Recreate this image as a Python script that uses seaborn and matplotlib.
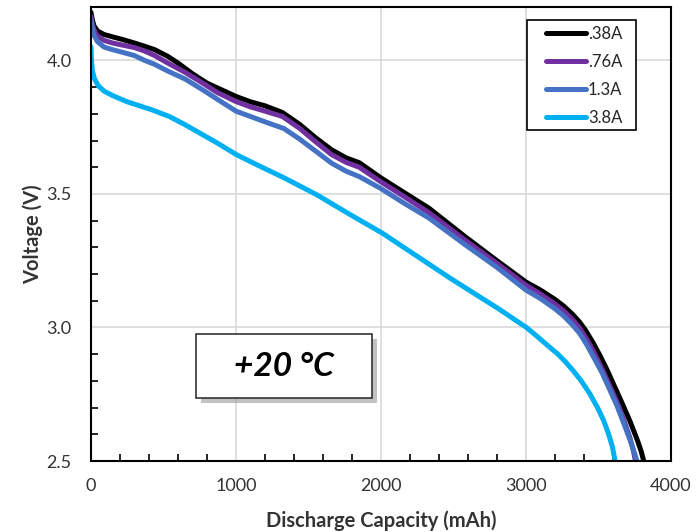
import matplotlib
matplotlib.use("Agg")
import matplotlib.pyplot as plt
import seaborn as sns
import pandas as pd
from matplotlib.patches import Rectangle
from matplotlib.ticker import MultipleLocator, FormatStrFormatter

sns.set_theme(style="white")
plt.rcParams['font.family'] = ['Lato', 'DejaVu Sans']

series_names = [".38A", ".76A", "1.3A", "3.8A"]
colors = ["#000000", "#7030A0", "#4472C4", "#00B0F0"]

cap_038 = [0, 8, 20, 45, 90, 150, 220, 300, 370, 440, 530, 600, 700, 800, 900, 1000, 1100,
           1200, 1320, 1440, 1550, 1660, 1760, 1850, 2000, 2160, 2330, 2580, 2800, 3000, 3100,
           3200, 3260, 3320, 3370, 3410, 3460, 3510, 3560, 3610, 3660, 3720, 3770, 3795, 3812]
volt_038 = [4.18, 4.155, 4.13, 4.11, 4.097, 4.088, 4.078, 4.065, 4.053, 4.04, 4.015, 3.99, 3.95,
            3.915, 3.89, 3.865, 3.845, 3.83, 3.805, 3.76, 3.71, 3.665, 3.635, 3.617, 3.56,
            3.505, 3.447, 3.34, 3.25, 3.17, 3.14, 3.105, 3.08, 3.05, 3.02, 2.99, 2.945, 2.895,
            2.84, 2.78, 2.72, 2.645, 2.575, 2.535, 2.5]

cap_076 = [0, 8, 20, 45, 90, 150, 220, 300, 370, 440, 530, 650, 770, 870, 1000, 1100, 1200,
           1320, 1440, 1550, 1660, 1760, 1850, 2000, 2160, 2330, 2580, 2800, 3000, 3100, 3200,
           3260, 3320, 3370, 3420, 3470, 3520, 3570, 3620, 3670, 3715, 3740, 3755]
volt_076 = [4.165, 4.14, 4.115, 4.09, 4.075, 4.065, 4.057, 4.048, 4.035, 4.018, 3.99, 3.955,
            3.915, 3.88, 3.846, 3.826, 3.81, 3.79, 3.745, 3.695, 3.647, 3.618, 3.60, 3.545,
            3.49, 3.43, 3.327, 3.24, 3.158, 3.125, 3.088, 3.062, 3.03, 2.998, 2.955, 2.905,
            2.85, 2.79, 2.73, 2.66, 2.59, 2.54, 2.5]

cap_13 = [0, 8, 20, 45, 90, 150, 220, 300, 370, 440, 530, 650, 770, 870, 1000, 1100, 1200,
          1330, 1440, 1550, 1660, 1760, 1850, 2000, 2160, 2330, 2580, 2800, 3000, 3100, 3200,
          3260, 3320, 3370, 3420, 3470, 3525, 3575, 3625, 3675, 3720, 3748, 3765]
volt_13 = [4.15, 4.125, 4.095, 4.07, 4.05, 4.04, 4.03, 4.018, 4.0, 3.985, 3.96, 3.93, 3.89,
           3.855, 3.81, 3.79, 3.77, 3.745, 3.705, 3.66, 3.615, 3.585, 3.565, 3.52, 3.465,
           3.41, 3.31, 3.225, 3.14, 3.108, 3.07, 3.043, 3.01, 2.978, 2.935, 2.885, 2.83,
           2.77, 2.71, 2.64, 2.575, 2.53, 2.5]

cap_38 = [0, 3, 10, 25, 50, 90, 150, 250, 420, 540, 646, 760, 873, 1003, 1160, 1333, 1560,
          1780, 2010, 2240, 2467, 2650, 2811, 2920, 3003, 3080, 3155, 3220, 3271, 3330, 3381,
          3440, 3498, 3535, 3567, 3595, 3615]
volt_38 = [4.05, 4.0, 3.96, 3.93, 3.905, 3.885, 3.868, 3.845, 3.815, 3.79, 3.76, 3.725, 3.69,
           3.647, 3.605, 3.56, 3.496, 3.425, 3.353, 3.27, 3.188, 3.125, 3.07, 3.03, 3.0, 2.965,
           2.93, 2.90, 2.872, 2.835, 2.80, 2.752, 2.695, 2.652, 2.605, 2.555, 2.5]

caps = [cap_038, cap_076, cap_13, cap_38]
volts = [volt_038, volt_076, volt_13, volt_38]

frames = []
for name, c, v in zip(series_names, caps, volts):
    frames.append(pd.DataFrame({"Capacity": c, "Voltage": v, "Current": name}))
df = pd.concat(frames, ignore_index=True)

fig = plt.figure(figsize=(6.98, 5.32), dpi=100)
ax = fig.add_axes([91/698, 1-461/532, (671-91)/698, (461-7)/532])

sns.lineplot(data=df, x="Capacity", y="Voltage", hue="Current", hue_order=series_names,
             palette=dict(zip(series_names, colors)), estimator=None, sort=False,
             linewidth=3.6, ax=ax)

ax.set_xlim(0, 4000)
ax.set_ylim(2.5, 4.2)
ax.xaxis.set_major_locator(MultipleLocator(1000))
ax.xaxis.set_minor_locator(MultipleLocator(200))
ax.yaxis.set_major_locator(MultipleLocator(0.5))
ax.yaxis.set_minor_locator(MultipleLocator(0.1))
ax.yaxis.set_major_formatter(FormatStrFormatter('%.1f'))
ax.grid(True, which='major', color='#d9d9d9', linewidth=1.2)
ax.set_axisbelow(True)
for s in ax.spines.values():
    s.set_color('black')
    s.set_linewidth(1.5)
ax.tick_params(which='both', direction='in', color='black', width=1.2, labelsize=13,
               labelcolor='#333333', bottom=True, left=True)
ax.tick_params(which='major', length=0)
ax.tick_params(which='minor', length=5)
ax.tick_params(axis='x', which='major', pad=12)
ax.tick_params(axis='y', which='major', pad=14)

ax.set_xlabel("Discharge Capacity (mAh)", fontsize=14.5, fontweight='bold', color='#333333', labelpad=12)
ax.set_ylabel("Voltage (V)", fontsize=14.5, fontweight='bold', color='#333333', labelpad=2)

# legend: frame drawn as a separate rectangle
lx0, lx1 = (527-91)/580, (636-91)/580
ly0, ly1 = (461-130)/454, (461-20)/454
ax.add_patch(Rectangle((lx0, ly0), lx1 - lx0, ly1 - ly0, transform=ax.transAxes,
                       facecolor='white', edgecolor='black', linewidth=1.2, zorder=4.5))
leg = ax.legend(loc='center', bbox_to_anchor=((584-91)/580, (461-76)/454), borderaxespad=0,
                frameon=False, fontsize=12, handlelength=2.4, handletextpad=0.12,
                labelspacing=0.72, borderpad=0, title=None)
leg.set_zorder(5)
for line in leg.get_lines():
    line.set_linewidth(3.6)

# annotation box with shadow
x0, x1 = (196-91)/580, (372-91)/580
y0, y1 = (461-398)/454, (461-334)/454
ax.add_patch(Rectangle((x0 + 0.008, y0 - 0.010), x1 - x0, y1 - y0, transform=ax.transAxes,
                       facecolor='#9a9a9a', edgecolor='none', alpha=0.6, zorder=5))
ax.add_patch(Rectangle((x0, y0), x1 - x0, y1 - y0, transform=ax.transAxes,
                       facecolor='white', edgecolor='#333333', linewidth=1.2, zorder=6))
ax.text((x0 + x1)/2, (y0 + y1)/2, "+20 °C", transform=ax.transAxes, ha='center', va='center',
        fontsize=24, fontweight='bold', fontstyle='italic', color='black', zorder=7)

fig.savefig("out.png", dpi=100)
